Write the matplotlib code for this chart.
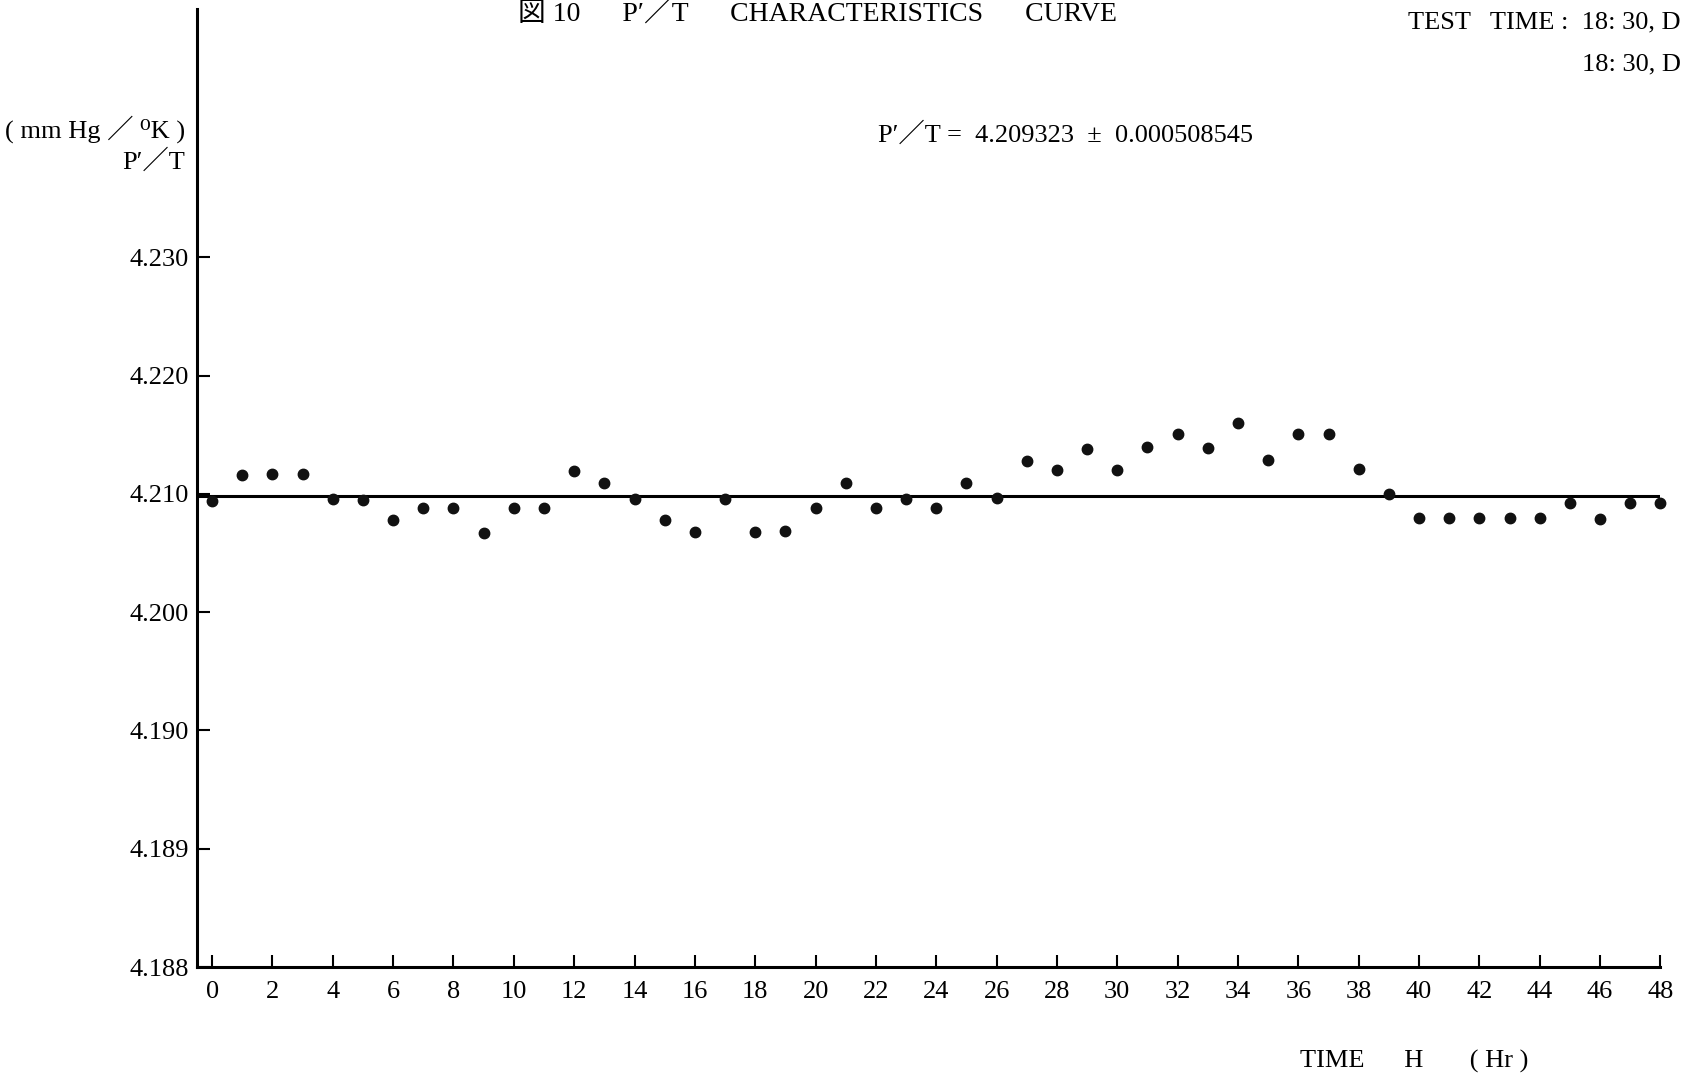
import matplotlib.pyplot as plt

# Data (P'/T in mmHg/K, hourly readings)
hours = list(range(0, 49))
pt_values = [
    4.2094, 4.2116, 4.2117, 4.2117, 4.2096, 4.2095, 4.2078, 4.2088, 4.2088, 4.2067,
    4.2088, 4.2088, 4.2119, 4.2109, 4.2096, 4.2078, 4.2068, 4.2096, 4.2068, 4.2069,
    4.2088, 4.2109, 4.2088, 4.2096, 4.2088, 4.2109, 4.2097, 4.2128, 4.2120, 4.2138,
    4.2120, 4.2140, 4.2151, 4.2139, 4.2160, 4.2129, 4.2151, 4.2151, 4.2121, 4.2100,
    4.2080, 4.2080, 4.2080, 4.2080, 4.2080, 4.2092, 4.2079, 4.2092, 4.2092,
]
mean_line = 4.2098

# The printed y scale is broken below 4.200: equal steps for unequal values
ytick_pos = [4.170, 4.180, 4.190, 4.200, 4.210, 4.220, 4.230]
ytick_labels = ['4.188', '4.189', '4.190', '4.200', '4.210', '4.220', '4.230']
xticks = list(range(0, 49, 2))

serif = ['Liberation Serif', 'Noto Sans CJK JP', 'DejaVu Serif']
plt.rcParams['font.family'] = serif

fig = plt.figure(figsize=(16.84, 10.8), dpi=100)
ax = fig.add_axes([0.117, 0.1046, 0.869, 0.887])

ax.plot(hours, pt_values, 'o', color='#111111', markersize=7.5, clip_on=False, zorder=3)
ax.axhline(mean_line, color='black', linewidth=2.2)

ax.set_xlim(-0.5, 48)
ax.set_ylim(4.1706, 4.2510)
ax.set_xticks(xticks)
ax.set_yticks(ytick_pos)
ax.set_yticklabels(ytick_labels)
ax.tick_params(axis='both', direction='in', length=9, width=1.5, labelsize=19, colors='black')
ax.tick_params(axis='x', pad=10)
ax.tick_params(axis='y', pad=6)

for side in ['top', 'right']:
    ax.spines[side].set_visible(False)
for side in ['left', 'bottom']:
    ax.spines[side].set_linewidth(2.2)

# Text annotations
fig.text(518 / 1684, 1 - 14 / 1080, '図 10      P′／T      CHARACTERISTICS      CURVE',
         fontsize=20, ha='left', va='center')
fig.text(0.998, 1 - 22 / 1080, 'TEST   TIME :  18: 30, D', fontsize=19, ha='right', va='center')
fig.text(0.998, 1 - 64 / 1080, '18: 30, D', fontsize=19, ha='right', va='center')
fig.text(185 / 1684, 1 - 129 / 1080, '( mm Hg ／ ⁰K )', fontsize=19, ha='right', va='center')
fig.text(185 / 1684, 1 - 161 / 1080, 'P′／T', fontsize=19, ha='right', va='center')
fig.text(878 / 1684, 1 - 134 / 1080, 'P′／T =  4.209323  ±  0.000508545', fontsize=19,
         ha='left', va='center')
fig.text(1300 / 1684, 1 - 1061 / 1080, 'TIME      H       ( Hr )', fontsize=19, ha='left', va='center')

plt.savefig('out.png', dpi=100)
